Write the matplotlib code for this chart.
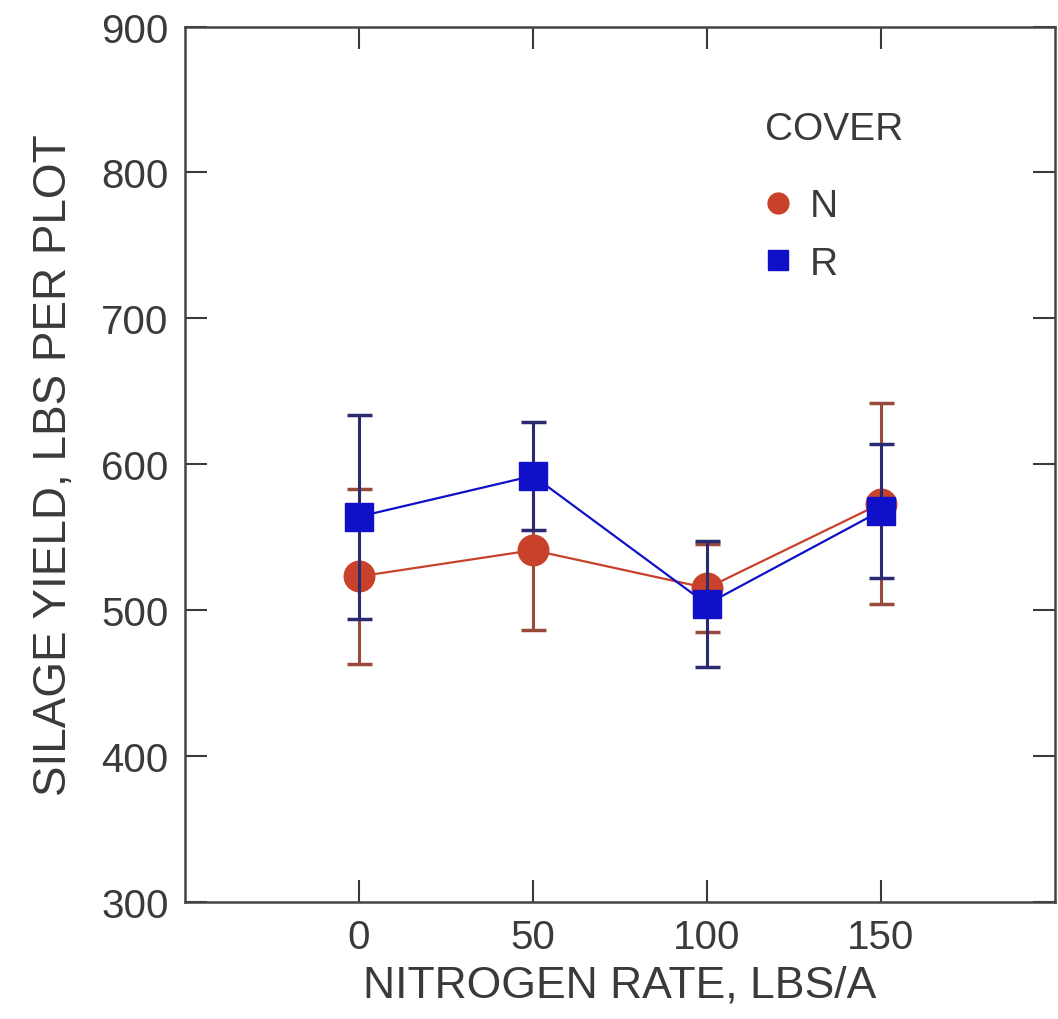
import matplotlib
matplotlib.use("Agg")
import matplotlib.pyplot as plt
from matplotlib.lines import Line2D

plt.rcParams['font.family'] = ['Liberation Sans', 'DejaVu Sans']

nitrogen = [0, 50, 100, 150]
n_yield = [523, 541, 515, 573]
n_err = [60, 55, 30, 69]
r_yield = [564, 592, 504, 568]
r_err = [70, 37, 43, 46]
x_ticks = [0, 50, 100, 150]
y_ticks = [300, 400, 500, 600, 700, 800, 900]

red = '#c8412a'
blue = '#1010c8'
txt = '#3a3a3a'

fig = plt.figure(figsize=(10.58, 10.20), dpi=100)
ax = fig.add_axes([0.175, 0.115, 0.822, 0.858])

ax.errorbar(nitrogen, n_yield, yerr=n_err, color=red, lw=1.6, marker='o',
            ms=22, mfc=red, mec=red, ecolor='#9a4a3a', elinewidth=2.2,
            capsize=9, capthick=2.5, zorder=3)
ax.errorbar(nitrogen, r_yield, yerr=r_err, color=blue, lw=1.6, marker='s',
            ms=20, mfc=blue, mec=blue, ecolor='#2a2a70', elinewidth=2.2,
            capsize=9, capthick=2.5, zorder=4)

ax.set_xlim(-50, 200)
ax.set_ylim(300, 900)
ax.set_xticks(x_ticks)
ax.set_yticks(y_ticks)
ax.tick_params(direction='in', length=16, width=1.5, top=True, right=True,
               labelsize=29, colors=txt, pad=12)
for s in ax.spines.values():
    s.set_linewidth(1.8)
    s.set_color('#444444')

ax.set_xlabel('NITROGEN RATE, LBS/A', fontsize=32, color=txt, labelpad=6)
ax.set_ylabel('SILAGE YIELD, LBS PER PLOT', fontsize=33, color=txt, labelpad=18)

handles = [Line2D([], [], ls='none', marker='o', ms=15, color=red),
           Line2D([], [], ls='none', marker='s', ms=14, color=blue)]
leg = ax.legend(handles, ['N', 'R'], title='COVER', loc='upper left',
                bbox_to_anchor=(0.635, 0.935), frameon=False, fontsize=28,
                title_fontsize=28, handletextpad=0.45, labelspacing=0.55,
                handlelength=0.7, alignment='left', borderpad=0.2)
leg._legend_box.sep = 30
for t in leg.get_texts():
    t.set_color(txt)
leg.get_title().set_color(txt)

fig.savefig('out.png', dpi=100)
